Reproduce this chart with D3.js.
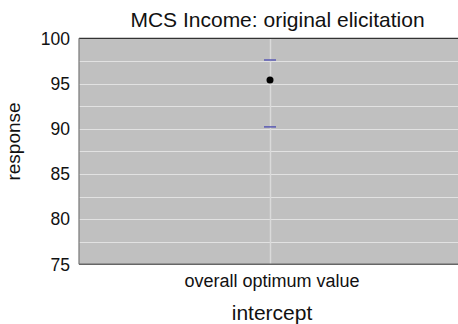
<!DOCTYPE html>
<html>
<head>
<meta charset="utf-8">
<script src="https://cdn.jsdelivr.net/npm/d3@7"></script>
<style>
  html, body { margin: 0; padding: 0; background: #fff; }
  svg { display: block; font-family: "Liberation Sans", Arial, sans-serif; }
</style>
</head>
<body>
<svg id="chart" width="458" height="324"></svg>
<script>
// Estimate with its interval for the intercept term
const categories = ["overall optimum value"];
const estimates = [95.4];
const lowerBounds = [90.2];
const upperBounds = [97.6];
const yTicks = [75, 80, 85, 90, 95, 100];
const yGrid = [77.5, 80, 82.5, 85, 87.5, 90, 92.5, 95, 97.5];

const titleText = "MCS Income: original elicitation";
const xTitle = "intercept";
const yTitle = "response";

const svg = d3.select("#chart");
const plot = { left: 79, right: 461, top: 38.3, bottom: 264.3 };

const x = d3.scalePoint().domain(categories).range([plot.left, plot.right]).padding(0.5);
const y = d3.scaleLinear().domain([75, 100]).range([plot.bottom, plot.top]);

// panel background
svg.append("rect")
  .attr("x", plot.left).attr("y", plot.top)
  .attr("width", plot.right - plot.left).attr("height", plot.bottom - plot.top)
  .attr("fill", "#c0c0c0");

// horizontal grid
svg.append("g").selectAll("line").data(yGrid).join("line")
  .attr("x1", plot.left).attr("x2", plot.right)
  .attr("y1", d => Math.round(y(d)) + 0.5).attr("y2", d => Math.round(y(d)) + 0.5)
  .attr("stroke", "#e2e2e2").attr("stroke-width", 1);

// vertical grid at each category
svg.append("g").selectAll("line").data(categories).join("line")
  .attr("x1", d => Math.round(x(d)) + 0.5).attr("x2", d => Math.round(x(d)) + 0.5)
  .attr("y1", plot.top).attr("y2", plot.bottom)
  .attr("stroke", "#dadada").attr("stroke-width", 1.5);

// frame
svg.append("line").attr("x1", plot.left).attr("x2", plot.right)
  .attr("y1", plot.top).attr("y2", plot.top).attr("stroke", "#333").attr("stroke-width", 1.2);
svg.append("line").attr("x1", plot.left).attr("x2", plot.right)
  .attr("y1", plot.bottom).attr("y2", plot.bottom).attr("stroke", "#666").attr("stroke-width", 1.5);
svg.append("line").attr("x1", plot.left).attr("x2", plot.left)
  .attr("y1", plot.top).attr("y2", plot.bottom).attr("stroke", "#777").attr("stroke-width", 1.2);

// interval caps and point estimate
const capHalf = 6;
const marks = svg.append("g");
categories.forEach((c, i) => {
  [lowerBounds[i], upperBounds[i]].forEach(v => {
    marks.append("line")
      .attr("x1", x(c) - capHalf).attr("x2", x(c) + capHalf)
      .attr("y1", y(v)).attr("y2", y(v))
      .attr("stroke", "#5a5ab4").attr("stroke-width", 1.5);
  });
  marks.append("circle")
    .attr("cx", x(c)).attr("cy", y(estimates[i])).attr("r", 3.5)
    .attr("fill", "#000");
});

// y axis tick labels
svg.append("g").selectAll("text").data(yTicks).join("text")
  .attr("x", 70).attr("y", d => y(d)).attr("dy", "0.36em")
  .attr("text-anchor", "end").attr("font-size", 17.5).attr("fill", "#111")
  .text(d => d);

// x axis tick labels
svg.append("g").selectAll("text").data(categories).join("text")
  .attr("x", d => x(d) + 2).attr("y", 287)
  .attr("text-anchor", "middle").attr("font-size", 18).attr("fill", "#111")
  .text(d => d);

// titles
svg.append("text").attr("x", 277.5).attr("y", 26.5)
  .attr("text-anchor", "middle").attr("font-size", 21).attr("fill", "#111")
  .text(titleText);
svg.append("text").attr("x", 272).attr("y", 319.5)
  .attr("text-anchor", "middle").attr("font-size", 21).attr("fill", "#111")
  .text(xTitle);
svg.append("text").attr("transform", "translate(20,141.5) rotate(-90)")
  .attr("text-anchor", "middle").attr("font-size", 19).attr("fill", "#111")
  .text(yTitle);
</script>
</body>
</html>
